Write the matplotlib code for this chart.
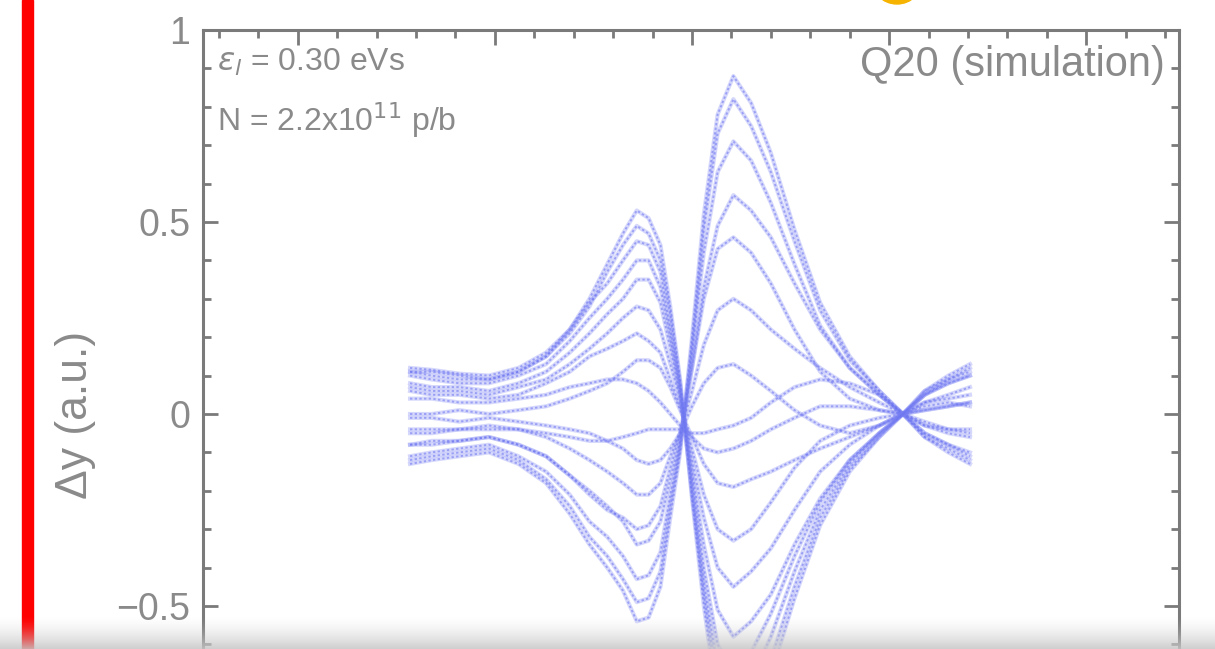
import numpy as np
import matplotlib
matplotlib.use("Agg")
from matplotlib import pyplot as plt
from matplotlib.patches import Rectangle, Ellipse
from matplotlib.ticker import MultipleLocator

plt.rcParams['font.family'] = ['Liberation Sans', 'DejaVu Sans']

# positions along the bunch (same for every trace)
t = [-1.43, -1.32, -1.18, -1.03, -0.88, -0.74, -0.62, -0.52, -0.43, -0.35,
     -0.28, -0.22, -0.16, -0.11, -0.06, 0.00, 0.06, 0.13, 0.21, 0.30,
     0.40, 0.52, 0.65, 0.80, 0.95, 1.07, 1.18, 1.30, 1.41]

# traces (one list per turn)
tr01 = [-0.13, -0.12, -0.11, -0.10, -0.13, -0.18, -0.26, -0.34, -0.40, -0.46,
        -0.54, -0.53, -0.45, -0.27, -0.10, 0.20, 0.52, 0.78, 0.88, 0.81,
        0.68, 0.48, 0.29, 0.15, 0.06, 0.00, -0.06, -0.10, -0.13]
tr02 = [-0.12, -0.11, -0.10, -0.09, -0.12, -0.17, -0.24, -0.32, -0.37, -0.43,
        -0.49, -0.48, -0.41, -0.24, -0.09, 0.18, 0.48, 0.73, 0.82, 0.75,
        0.63, 0.45, 0.27, 0.14, 0.06, 0.00, -0.06, -0.09, -0.12]
tr03 = [-0.11, -0.10, -0.09, -0.08, -0.11, -0.15, -0.21, -0.28, -0.32, -0.37,
        -0.43, -0.42, -0.36, -0.21, -0.08, 0.16, 0.42, 0.63, 0.71, 0.66,
        0.55, 0.39, 0.23, 0.12, 0.05, 0.00, -0.05, -0.08, -0.11]
tr04 = [-0.08, -0.07, -0.07, -0.06, -0.08, -0.11, -0.16, -0.20, -0.24, -0.28,
        -0.34, -0.33, -0.28, -0.17, -0.07, 0.12, 0.33, 0.49, 0.57, 0.53,
        0.46, 0.34, 0.22, 0.12, 0.05, 0.00, -0.05, -0.08, -0.10]
tr05 = [-0.08, -0.08, -0.07, -0.06, -0.08, -0.11, -0.16, -0.21, -0.25, -0.27,
        -0.30, -0.29, -0.24, -0.14, -0.05, 0.12, 0.30, 0.43, 0.46, 0.42,
        0.34, 0.22, 0.11, 0.04, 0.01, 0.00, -0.02, -0.04, -0.05]
tr06 = [-0.04, -0.04, -0.04, -0.03, -0.04, -0.06, -0.09, -0.12, -0.15, -0.18,
        -0.21, -0.21, -0.18, -0.11, -0.05, 0.06, 0.18, 0.27, 0.30, 0.27,
        0.22, 0.17, 0.12, 0.07, 0.03, 0.00, -0.03, -0.05, -0.06]
tr07 = [-0.01, -0.01, -0.02, -0.01, -0.02, -0.03, -0.04, -0.05, -0.07, -0.09,
        -0.12, -0.13, -0.12, -0.09, -0.05, 0.02, 0.08, 0.12, 0.13, 0.10,
        0.06, 0.01, -0.03, -0.05, -0.03, 0.00, 0.02, 0.03, 0.02]
tr08 = [-0.05, -0.05, -0.04, -0.04, -0.04, -0.05, -0.06, -0.07, -0.07, -0.06,
        -0.05, -0.04, -0.04, -0.04, -0.04, -0.05, -0.05, -0.04, -0.03, -0.01,
        0.03, 0.07, 0.09, 0.08, 0.05, 0.00, -0.03, -0.04, -0.04]
tr09 = [0.04, 0.04, 0.03, 0.03, 0.04, 0.05, 0.07, 0.08, 0.09, 0.09,
        0.08, 0.06, 0.03, 0.00, -0.03, -0.06, -0.09, -0.10, -0.09, -0.07,
        -0.04, -0.01, 0.02, 0.02, 0.01, 0.00, 0.01, 0.02, 0.03]
tr10 = [0.00, 0.00, 0.01, 0.00, 0.01, 0.02, 0.04, 0.06, 0.08, 0.11,
        0.14, 0.14, 0.12, 0.07, 0.01, -0.06, -0.13, -0.18, -0.19, -0.17,
        -0.15, -0.12, -0.09, -0.06, -0.03, 0.00, 0.03, 0.04, 0.05]
tr11 = [0.06, 0.05, 0.05, 0.04, 0.05, 0.08, 0.11, 0.15, 0.17, 0.19,
        0.21, 0.19, 0.16, 0.09, 0.02, -0.09, -0.21, -0.30, -0.33, -0.30,
        -0.23, -0.14, -0.07, -0.03, -0.01, 0.00, 0.01, 0.02, 0.03]
tr12 = [0.07, 0.06, 0.06, 0.05, 0.07, 0.09, 0.13, 0.17, 0.21, 0.25,
        0.28, 0.27, 0.22, 0.13, 0.04, -0.12, -0.27, -0.40, -0.45, -0.41,
        -0.35, -0.25, -0.15, -0.08, -0.03, 0.00, 0.03, 0.05, 0.07]
tr13 = [0.08, 0.07, 0.07, 0.06, 0.08, 0.11, 0.16, 0.21, 0.26, 0.30,
        0.35, 0.35, 0.29, 0.17, 0.05, -0.15, -0.34, -0.51, -0.58, -0.54,
        -0.47, -0.34, -0.22, -0.12, -0.05, 0.00, 0.05, 0.08, 0.10]
tr14 = [0.10, 0.09, 0.08, 0.08, 0.10, 0.13, 0.19, 0.25, 0.30, 0.35,
        0.40, 0.40, 0.33, 0.20, 0.06, -0.17, -0.40, -0.60, -0.67, -0.62,
        -0.52, -0.37, -0.23, -0.12, -0.05, 0.00, 0.05, 0.08, 0.10]
tr15 = [0.11, 0.10, 0.09, 0.09, 0.11, 0.15, 0.22, 0.29, 0.34, 0.40,
        0.45, 0.44, 0.37, 0.22, 0.07, -0.20, -0.44, -0.66, -0.75, -0.69,
        -0.58, -0.41, -0.25, -0.13, -0.05, 0.00, 0.05, 0.09, 0.11]
tr16 = [0.11, 0.11, 0.10, 0.09, 0.11, 0.15, 0.21, 0.28, 0.37, 0.44,
        0.49, 0.47, 0.40, 0.26, 0.08, -0.21, -0.47, -0.71, -0.83, -0.76,
        -0.64, -0.45, -0.27, -0.14, -0.06, 0.00, 0.06, 0.09, 0.12]
tr17 = [0.12, 0.115, 0.105, 0.10, 0.12, 0.16, 0.22, 0.30, 0.39, 0.47,
        0.53, 0.51, 0.44, 0.28, 0.09, -0.22, -0.50, -0.76, -0.88, -0.81,
        -0.68, -0.48, -0.29, -0.15, -0.06, 0.00, 0.06, 0.10, 0.13]
traces = [tr01, tr02, tr03, tr04, tr05, tr06, tr07, tr08, tr09,
          tr10, tr11, tr12, tr13, tr14, tr15, tr16, tr17]

ytick_vals = [-0.5, 0, 0.5, 1]
ytick_labels = ['\u22120.5', '0', '0.5', '1']

W, H = 1215, 649
fig = plt.figure(figsize=(W / 100, H / 100), dpi=100)

# axes frame: left 203px, right 1179px, y=1 at 30px, 384px per unit
ymin, ymax = -0.75, 1.0
ax_h = (ymax - ymin) * 384
ax_bottom = 30 + ax_h
ax = fig.add_axes([203 / W, 1 - ax_bottom / H, (1179 - 203) / W, ax_h / H])

for tr in traces:
    ax.plot(t, tr, color='#7880f4', lw=3.0, alpha=0.30, solid_joinstyle='round')
    ax.plot(t, tr, color='#6a72f0', lw=1.4, alpha=0.55, ls=(0, (1.2, 1.2)))

ax.set_xlim(-2.48, 2.47)
ax.set_ylim(ymin, ymax)

gray = '#7a7a7a'
for s in ax.spines.values():
    s.set_color(gray)
    s.set_linewidth(2.2)

ax.xaxis.set_major_locator(MultipleLocator(1))
ax.xaxis.set_minor_locator(MultipleLocator(0.2))
ax.set_yticks(ytick_vals)
ax.set_yticklabels(ytick_labels)
ax.yaxis.set_minor_locator(MultipleLocator(0.1))
ax.tick_params(which='both', direction='in', top=True, right=True, bottom=True, left=True,
               labelbottom=False, color=gray, width=2)
ax.tick_params(which='major', length=11, labelsize=27, labelcolor='#8a8a8a', pad=9)
ax.tick_params(which='minor', length=6)
ax.set_ylabel('\u0394y (a.u.)', fontsize=32, color='#8a8a8a')
ax.yaxis.set_label_coords((96 - 203) / (1179 - 203), (ax_bottom - 415) / ax_h)

ax.text(-2.41, 0.915, r'$\epsilon_l$ = 0.30 eVs', fontsize=23, color='#8a8a8a', va='center')
ax.text(-2.41, 0.765, r'N = 2.2x10$^{11}$ p/b', fontsize=23, color='#8a8a8a', va='center')
ax.text(2.40, 0.91, 'Q20 (simulation)', fontsize=30, color='#8a8a8a', va='center', ha='right')

# red bar at left edge and yellow marker at top
fig.patches.append(Rectangle((22 / W, 0), 11 / W, 1, transform=fig.transFigure,
                             color='#ff0000', zorder=5))
fig.patches.append(Ellipse((897 / W, 1 + 22 / H), 52 / W, 52 / H, transform=fig.transFigure,
                           color='#f6b400', zorder=5))

# grey fade at the bottom
gax = fig.add_axes([0, 0, 1, 34 / H], zorder=10)
ramp = np.linspace(0, 1, 40) ** 1.6
img = np.zeros((40, 1, 4))
img[:, 0, :3] = 0.78
img[:, 0, 3] = ramp * 0.85
gax.imshow(img, aspect='auto', extent=(0, 1, 1, 0))
gax.axis('off')

fig.savefig('out.png', dpi=100)
